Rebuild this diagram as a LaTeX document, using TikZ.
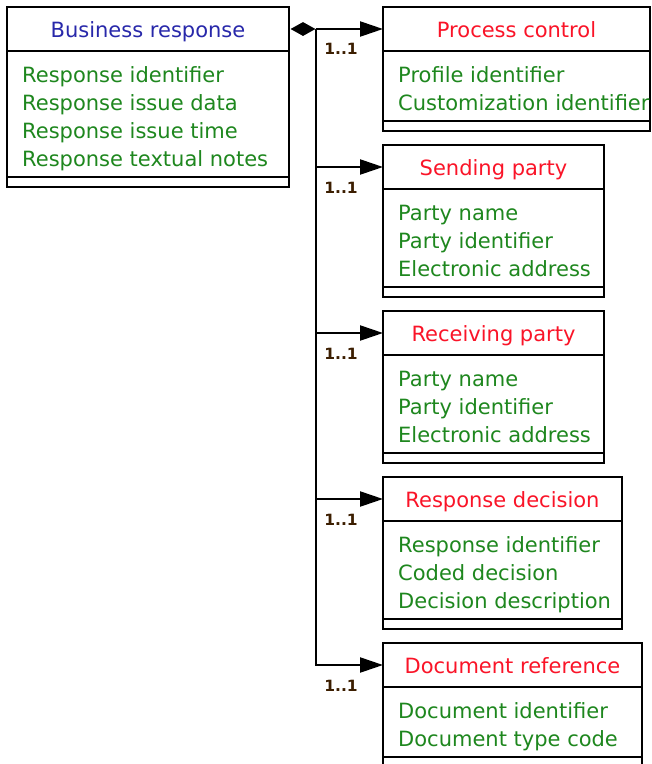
\documentclass[tikz,border=0pt]{standalone}
\usepackage{fontspec}
\setmainfont{DejaVu Sans}
\usetikzlibrary{shapes.geometric,arrows.meta}
\definecolor{ttlblue}{RGB}{40,40,170}
\definecolor{ttlred}{RGB}{250,20,40}
\definecolor{attgreen}{RGB}{30,135,30}
\definecolor{lblcol}{RGB}{60,30,0}
\tikzset{
  boxline/.style={draw=black, line width=2.2pt, inner sep=0pt, outer sep=0pt},
  ttl/.style={font=\fontsize{21}{28}\selectfont, inner sep=0pt},
  att/.style={font=\fontsize{21}{28}\selectfont, text=attgreen, inner sep=0pt, anchor=base west},
  mult/.style={font=\fontsize{15.5}{18}\selectfont\bfseries, text=lblcol, inner sep=0pt},
  conn/.style={line width=2.2pt, -{Triangle[length=23pt,width=15pt]}},
}
\newcommand\classbox[8]{%
  \pgfmathsetmacro\cbH{#3+44}%
  \pgfmathsetmacro\cbA{\cbH+28*#5+14}%
  \pgfmathsetmacro\cbT{\cbA+10-#3}%
  \pgfmathsetmacro\cbB{\cbA-\cbH}%
  \node[boxline, minimum width=#4pt, minimum height=\cbT pt, anchor=north west] (#1) at (#2,#3) {};
  \node[boxline, minimum width=#4pt, minimum height=44pt, anchor=north west] (#1h) at (#2,#3) {};
  \node[boxline, minimum width=#4pt, minimum height=\cbB pt, anchor=north west] (#1b) at (#2,\cbH) {};
  \node[ttl, text=#6, anchor=base] (#1t) at ({#2+#4/2},{#3+30}) {#7};
  \foreach \a [count=\i] in {#8} {\node[att] (#1a\i) at ({#2+15},{\cbH+31+28*(\i-1)}) {\a};}
}
\begin{document}
\begin{tikzpicture}[x=1pt,y=-1pt]
\useasboundingbox (0,0) rectangle (652,764);
\fill[white] (0,0) rectangle (652,764);
\classbox{br}{7}{7}{282}{4}{ttlblue}{Business response}{Response identifier,Response issue data,Response issue time,Response textual notes}
\classbox{pc}{383}{7}{267}{2}{ttlred}{Process control}{Profile identifier,Customization identifier}
\classbox{sp}{383}{145}{221}{3}{ttlred}{Sending party}{Party name,Party identifier,Electronic address}
\classbox{rp}{383}{311}{221}{3}{ttlred}{Receiving party}{Party name,Party identifier,Electronic address}
\classbox{rd}{383}{477}{239}{3}{ttlred}{Response decision}{Response identifier,Coded decision,Decision description}
\classbox{dr}{383}{643}{259}{2}{ttlred}{Document reference}{Document identifier,Document type code}
\node[diamond, fill=black, minimum width=25pt, minimum height=14pt, inner sep=0pt] (dia) at (303,29) {};
\coordinate (j) at (316,29);
\draw[conn] (dia.east) -- (pch.west);
\draw[conn] (j) |- (sph.west);
\draw[conn] (j) |- (rph.west);
\draw[conn] (j) |- (rdh.west);
\draw[conn] (j) |- (drh.west);
\node[mult] (m1) at (341,49) {1..1};
\node[mult] (m2) at (341,188) {1..1};
\node[mult] (m3) at (341,354) {1..1};
\node[mult] (m4) at (341,520) {1..1};
\node[mult] (m5) at (341,686) {1..1};
\end{tikzpicture}
\end{document}
